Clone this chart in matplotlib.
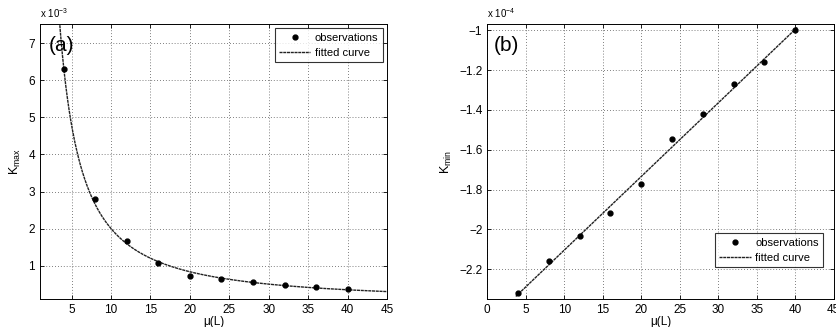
import numpy as np
import matplotlib
matplotlib.use("Agg")
import matplotlib.pyplot as plt
from matplotlib.ticker import FuncFormatter

plt.rcParams['font.family'] = ['Liberation Sans', 'DejaVu Sans']
plt.rcParams['mathtext.fontset'] = 'custom'
plt.rcParams['mathtext.rm'] = 'Liberation Sans'

# data (panel a: K_max in units of 1e-3, panel b: K_min in units of 1e-4)
mu = [4, 8, 12, 16, 20, 24, 28, 32, 36, 40]
kmax_e3 = [6.31, 2.80, 1.67, 1.07, 0.73, 0.64, 0.55, 0.47, 0.42, 0.36]
kmin_e4 = [-2.32, -2.158, -2.035, -1.92, -1.773, -1.546, -1.419, -1.272, -1.16, -1.0]
yticks_a = [1, 2, 3, 4, 5, 6, 7]
yticks_b = [-2.2, -2.0, -1.8, -1.6, -1.4, -1.2, -1.0]
xticks_a = [5, 10, 15, 20, 25, 30, 35, 40, 45]
xticks_b = [0, 5, 10, 15, 20, 25, 30, 35, 40, 45]

mu_arr = np.array(mu, float)
# fitted curves (derived from observations)
pa = np.polyfit(np.log(mu_arr), np.log(np.array(kmax_e3)), 1)
pb = np.polyfit(mu_arr, np.array(kmin_e4), 1)

fig = plt.figure(figsize=(8.37, 3.27), dpi=100)
axa = fig.add_axes([0.0478, 0.0856, 0.4146, 0.841])
axb = fig.add_axes([0.5822, 0.0856, 0.4139, 0.841])

fmt = FuncFormatter(lambda v, p: ('%g' % round(v, 6)).replace('-', '\u2212'))
line_style = (0, (2.2, 0.5))

def style(ax):
    ax.grid(True, linestyle=(0, (1, 2.5)), color='#555555', linewidth=0.6)
    ax.tick_params(direction='in', top=True, right=True, labelsize=8.5, length=3, width=0.6)
    for s in ax.spines.values():
        s.set_linewidth(0.7)
    ax.yaxis.set_major_formatter(fmt)
    ax.xaxis.set_major_formatter(fmt)

leg_kw = dict(fontsize=8, frameon=True, fancybox=False, edgecolor='black', borderpad=0.4,
              handlelength=2.8, labelspacing=0.45, handletextpad=0.4)

# panel a
xa = np.linspace(3.0, 45, 400)
axa.plot(xa, np.exp(np.polyval(pa, np.log(xa))), color='#222222', lw=1.0,
         linestyle=line_style, label='fitted curve', zorder=2)
axa.plot(mu, kmax_e3, 'o', color='black', ms=3.5, label='observations', zorder=3)
axa.set_xlim(1, 45)
axa.set_ylim(0.1, 7.52)
axa.set_xticks(xticks_a)
axa.set_yticks(yticks_a)
style(axa)
axa.set_xlabel('\u03bc(L)', fontsize=8.5, labelpad=0)
axa.set_ylabel(r'K$_{\mathrm{max}}$', fontsize=9, labelpad=4)
axa.text(0.0, 1.015, r'x 10$^{-3}$', transform=axa.transAxes, fontsize=7, ha='left', va='bottom')
axa.text(0.025, 0.955, '(a)', transform=axa.transAxes, fontsize=15, ha='left', va='top')
h, l = axa.get_legend_handles_labels()
leg = axa.legend(h[::-1], l[::-1], loc='upper right', borderaxespad=0.4, **leg_kw)
leg.get_frame().set_linewidth(0.8)

# panel b
xb = np.linspace(3.7, 40.3, 200)
axb.plot(xb, np.polyval(pb, xb), color='#222222', lw=1.0, linestyle=line_style,
         label='fitted curve', zorder=2)
axb.plot(mu, kmin_e4, 'o', color='black', ms=3.5, label='observations', zorder=3)
axb.set_xlim(0, 45)
axb.set_ylim(-2.35, -0.968)
axb.set_xticks(xticks_b)
axb.set_yticks(yticks_b)
style(axb)
axb.set_xlabel('\u03bc(L)', fontsize=8.5, labelpad=0)
axb.set_ylabel(r'K$_{\mathrm{min}}$', fontsize=9, labelpad=4)
axb.text(0.0, 1.015, r'x 10$^{-4}$', transform=axb.transAxes, fontsize=7, ha='left', va='bottom')
axb.text(0.02, 0.955, '(b)', transform=axb.transAxes, fontsize=15, ha='left', va='top')
h, l = axb.get_legend_handles_labels()
leg = axb.legend(h[::-1], l[::-1], loc='lower right', bbox_to_anchor=(0.985, 0.095), **leg_kw)
leg.get_frame().set_linewidth(0.8)

fig.savefig('out.png', dpi=100)
